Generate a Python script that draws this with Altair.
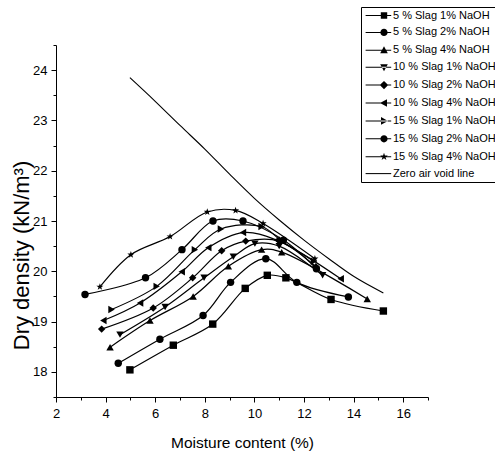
import altair as alt
import pandas as pd

# Mix names in legend order
series_names = [
    "5 % Slag 1% NaOH", "5 % Slag 2% NaOH", "5 % Slag 4% NaOH",
    "10 % Slag 1% NaOH", "10 % Slag 2% NaOH", "10 % Slag 4% NaOH",
    "15 % Slag 1% NaOH", "15 % Slag 2% NaOH", "15 % Slag 4% NaOH",
]
zav_name = "Zero air void line"

# Compaction curves: moisture content (%) and dry density (kN/m3)
mc_5s_1n = [4.98, 6.73, 8.32, 9.63, 10.52, 11.27, 13.09, 15.2]
dd_5s_1n = [18.04, 18.53, 18.95, 19.66, 19.92, 19.87, 19.44, 19.21]

mc_5s_2n = [4.51, 6.19, 7.93, 9.04, 10.46, 11.71, 13.79]
dd_5s_2n = [18.17, 18.65, 19.12, 19.78, 20.25, 19.78, 19.49]

mc_5s_4n = [4.18, 5.79, 7.53, 8.95, 10.29, 11.1, 14.55]
dd_5s_4n = [18.49, 19.02, 19.5, 20.1, 20.43, 20.38, 19.45]

mc_10s_1n = [4.58, 6.40, 7.97, 9.15, 10.02, 11.0, 12.75]
dd_10s_1n = [18.74, 19.29, 19.87, 20.29, 20.55, 20.5, 19.92]

mc_10s_2n = [3.84, 5.92, 7.51, 8.68, 9.65, 11.0, 12.48]
dd_10s_2n = [18.85, 19.27, 19.87, 20.41, 20.6, 20.6, 20.09]

mc_10s_4n = [3.91, 5.39, 7.07, 8.14, 9.54, 10.9, 13.48]
dd_10s_4n = [19.02, 19.37, 19.99, 20.47, 20.77, 20.62, 19.85]

mc_15s_1n = [4.24, 6.06, 7.6, 8.65, 10.29, 11.1, 12.4]
dd_15s_1n = [19.24, 19.7, 20.43, 20.84, 20.89, 20.6, 20.2]

mc_15s_2n = [3.17, 5.61, 7.08, 8.33, 9.54, 11.17, 12.5]
dd_15s_2n = [19.54, 19.87, 20.43, 21.0, 21.0, 20.62, 20.05]

mc_15s_4n = [3.77, 5.02, 6.6, 8.1, 9.24, 10.35, 12.44]
dd_15s_4n = [19.69, 20.33, 20.69, 21.18, 21.21, 20.95, 20.25]

# Zero air void line
zav_mc = [4.98, 6.0, 7.0, 8.0, 9.0, 10.0, 11.0, 12.0, 13.0, 14.0, 15.2]
zav_dd = [23.85, 23.38, 22.9, 22.43, 21.93, 21.45, 21.02, 20.62, 20.25, 19.9, 19.57]

# Axis ticks
x_major = [2, 4, 6, 8, 10, 12, 14, 16]
x_minor = [3, 5, 7, 9, 11, 13, 15, 17]
y_major = [18, 19, 20, 21, 22, 23, 24]
y_minor = [17.5, 18.5, 19.5, 20.5, 21.5, 22.5, 23.5, 24.5]

mc_lists = [mc_5s_1n, mc_5s_2n, mc_5s_4n, mc_10s_1n, mc_10s_2n, mc_10s_4n,
            mc_15s_1n, mc_15s_2n, mc_15s_4n]
dd_lists = [dd_5s_1n, dd_5s_2n, dd_5s_4n, dd_10s_1n, dd_10s_2n, dd_10s_4n,
            dd_15s_1n, dd_15s_2n, dd_15s_4n]

rows = []
for name, xs, ys in zip(series_names, mc_lists, dd_lists):
    for i, (x, y) in enumerate(zip(xs, ys)):
        rows.append({"series": name, "mc": x, "dd": y, "order": i})
curves = pd.DataFrame(rows)
zav = pd.DataFrame({"mc": zav_mc, "dd": zav_dd})
all_names = series_names + [zav_name]
legend_rows = pd.DataFrame({"series": all_names})

# Marker shapes
STAR = ("M0,-1L0.235,-0.324L0.951,-0.309L0.38,0.124L0.588,0.809L0,0.4"
        "L-0.588,0.809L-0.38,0.124L-0.951,-0.309L-0.235,-0.324Z")
plot_shapes = ["square", "circle", "triangle-up", "triangle-down", "diamond",
               "triangle-left", "triangle-right", "circle", STAR, "M0,0"]

# Legend symbols: a thin filled bar (the line) with the marker on it
SEG = "M-4.6,-0.13H1.8V0.13H-4.6Z"
legend_markers = [
    "M-0.8,-0.8H0.8V0.8H-0.8Z",
    "M-0.9,0A0.9,0.9,0,1,1,0.9,0A0.9,0.9,0,1,1,-0.9,0Z",
    "M0,-1L0.95,0.75L-0.95,0.75Z",
    "M0,1L0.95,-0.75L-0.95,-0.75Z",
    "M0,-1.05L1.05,0L0,1.05L-1.05,0Z",
    "M-1,0L0.75,-0.95L0.75,0.95Z",
    "M1,0L-0.75,-0.95L-0.75,0.95Z",
    "M-0.9,0A0.9,0.9,0,1,1,0.9,0A0.9,0.9,0,1,1,-0.9,0Z",
    STAR,
    "",
]
legend_paths = [SEG + m for m in legend_markers]

FONT = "Liberation Sans"
x_scale = alt.Scale(domain=[2, 17], nice=False, zero=False)
y_scale = alt.Scale(domain=[17.5, 24.5], nice=False, zero=False)

x_axis_major = alt.Axis(values=x_major, orient="bottom", tickSize=5, labelPadding=5,
                        labelFlush=False, title="Moisture content (%)",
                        titleFontSize=15.5, titleBaseline="alphabetic", titleY=50)
y_axis_major = alt.Axis(values=y_major, orient="left", tickSize=5, labelPadding=4,
                        labelFlush=False, title="Dry density (kN/m³)",
                        titleFontSize=22, titleBaseline="middle", titleX=-35, titleY=210)
x_axis_minor = alt.Axis(values=x_minor, orient="bottom", tickSize=3, labels=False,
                        domain=False, title="")
y_axis_minor = alt.Axis(values=y_minor, orient="left", tickSize=3, labels=False,
                        domain=False, title="")

zav_line = alt.Chart(zav).mark_line(color="black", strokeWidth=1.1, interpolate="monotone").encode(
    x=alt.X("mc:Q", scale=x_scale, axis=x_axis_major),
    y=alt.Y("dd:Q", scale=y_scale, axis=y_axis_major),
)

curve_lines = alt.Chart(curves).mark_line(color="black", strokeWidth=1.2,
                                          interpolate="catmull-rom").encode(
    x=alt.X("mc:Q", scale=x_scale, axis=x_axis_minor),
    y=alt.Y("dd:Q", scale=y_scale, axis=y_axis_minor),
    detail="series:N",
    order="order:Q",
)

curve_points = alt.Chart(curves).mark_point(filled=True, color="black", size=55, opacity=1).encode(
    x=alt.X("mc:Q", scale=x_scale, axis=None),
    y=alt.Y("dd:Q", scale=y_scale, axis=None),
    shape=alt.Shape("series:N", scale=alt.Scale(domain=all_names, range=plot_shapes),
                    legend=None),
)

legend = alt.Legend(
    title=None, orient="none", legendX=305, legendY=-38,
    symbolSize=64, labelFont=FONT, labelFontSize=11, labelColor="black",
    strokeColor="black", fillColor="white", padding=3, rowPadding=4.9,
    symbolOffset=14.5, labelOffset=3.5, labelLimit=300,
    symbolFillColor="black", symbolStrokeColor="black", symbolStrokeWidth=1,
    symbolOpacity=1,
)

# Legend entries only; the marks themselves have zero size
legend_layer = alt.Chart(legend_rows).mark_point(
    filled=True, color="black", size=0
).encode(
    x=alt.value(0), y=alt.value(0),
    shape=alt.Shape("series:N", scale=alt.Scale(domain=all_names, range=legend_paths),
                    legend=legend),
)

chart = alt.layer(zav_line, curve_lines, curve_points, legend_layer).resolve_axis(
    x="independent", y="independent"
).resolve_scale(shape="independent").properties(
    width=372, height=352,
    autosize=alt.AutoSizeParams(type="none"),
    padding={"left": 56, "top": 45, "right": 67, "bottom": 57},
).configure_view(strokeWidth=0).configure_axis(
    grid=False, domainColor="black", tickColor="black", labelColor="black",
    titleColor="black", labelFont=FONT, titleFont=FONT, labelFontSize=13,
    titleFontWeight="normal", domainWidth=1, tickWidth=1,
)

chart.save("out.html", embed_options={"renderer": "svg", "actions": False})
